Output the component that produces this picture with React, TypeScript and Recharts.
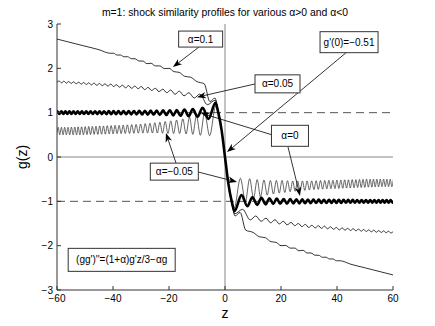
import React from 'react';
import { LineChart, Line, XAxis, YAxis, ReferenceLine, ReferenceDot } from 'recharts';

type Pt = [number, number];

const zTicks = [-60, -40, -20, 0, 20, 40, 60];
const gTicks = [-3, -2, -1, 0, 1, 2, 3];

// alpha = 0.1
const curveAlpha010: Pt[] = [
  [-60, 2.66], [-55, 2.58], [-50, 2.5], [-45, 2.42], [-41.0, 2.34], [-39.8, 2.34], [-38.55, 2.3], [-37.3, 2.3],
  [-36.05, 2.26], [-34.8, 2.262], [-33.5, 2.218], [-32.1, 2.215], [-30.7, 2.165], [-29.3, 2.165], [-27.9, 2.105],
  [-26.4, 2.115], [-24.9, 2.055], [-23.3, 2.055], [-21.7, 1.995], [-20.0, 2.0], [-18.2, 1.925], [-16.4, 1.91],
  [-14.4, 1.82], [-12.3, 1.8], [-10.0, 1.7], [-7.4, 1.65], [-5.4, 1.25], [-3.6, 1.33], [-2.4, 1.03], [-1.2, 0.6],
  [0, 0],
  [1.2, -0.6], [2.4, -1.03], [3.6, -1.33], [5.4, -1.25], [7.4, -1.65], [10.0, -1.7], [12.3, -1.8], [14.4, -1.82],
  [16.4, -1.91], [18.2, -1.925], [20.0, -2.0], [21.7, -1.995], [23.3, -2.055], [24.9, -2.055], [26.4, -2.115],
  [27.9, -2.105], [29.3, -2.165], [30.7, -2.165], [32.1, -2.215], [33.5, -2.218], [34.8, -2.262], [36.05, -2.26],
  [37.3, -2.3], [38.55, -2.3], [39.8, -2.34], [41.0, -2.34], [45, -2.42], [50, -2.5], [55, -2.58], [60, -2.66],
];

// alpha = 0.05
const curveAlpha005: Pt[] = [
  [-60.1, 1.678], [-59.25, 1.714], [-58.4, 1.673], [-57.55, 1.708], [-56.65, 1.667], [-55.8, 1.703], [-54.95, 1.66],
  [-54.05, 1.696], [-53.15, 1.652], [-52.25, 1.688], [-51.35, 1.643], [-50.45, 1.681], [-49.55, 1.635], [-48.65, 1.674],
  [-47.7, 1.626], [-46.75, 1.666], [-45.8, 1.617], [-44.8, 1.659], [-43.85, 1.608], [-42.85, 1.65], [-41.85, 1.6],
  [-40.8, 1.645], [-39.8, 1.59], [-38.75, 1.63], [-37.7, 1.575], [-36.6, 1.62], [-35.55, 1.56], [-34.45, 1.61],
  [-33.35, 1.55], [-32.2, 1.6], [-31.05, 1.54], [-29.9, 1.59], [-28.7, 1.52], [-27.45, 1.57], [-26.2, 1.5],
  [-24.9, 1.55], [-23.6, 1.475], [-22.2, 1.53], [-20.8, 1.45], [-19.4, 1.51], [-17.85, 1.415], [-16.3, 1.485],
  [-14.65, 1.38], [-12.9, 1.45], [-11.0, 1.33], [-9.0, 1.42], [-6.3, 1.18], [-3.5, 1.28], [-2.4, 1.04], [-1.2, 0.6],
  [0, 0],
  [1.2, -0.6], [2.4, -1.04], [3.5, -1.28], [6.3, -1.18], [9.0, -1.42], [11.0, -1.33], [12.9, -1.45], [14.65, -1.38],
  [16.3, -1.485], [17.85, -1.415], [19.4, -1.51], [20.8, -1.45], [22.2, -1.53], [23.6, -1.475], [24.9, -1.55],
  [26.2, -1.5], [27.45, -1.57], [28.7, -1.52], [29.9, -1.59], [31.05, -1.54], [32.2, -1.6], [33.35, -1.55],
  [34.45, -1.61], [35.55, -1.56], [36.6, -1.62], [37.7, -1.575], [38.75, -1.63], [39.8, -1.59], [40.8, -1.645],
  [41.85, -1.6], [42.85, -1.65], [43.85, -1.608], [44.8, -1.659], [45.8, -1.617], [46.75, -1.666], [47.7, -1.626],
  [48.65, -1.674], [49.55, -1.635], [50.45, -1.681], [51.35, -1.643], [52.25, -1.688], [53.15, -1.652],
  [54.05, -1.696], [54.95, -1.66], [55.8, -1.703], [56.65, -1.667], [57.55, -1.708], [58.4, -1.673],
  [59.25, -1.714], [60.1, -1.678],
];

// alpha = 0 (thick)
const curveAlpha000: Pt[] = [
  [-60.6, 0.97], [-59.9, 1.03], [-59.15, 0.97], [-58.45, 1.03], [-57.7, 0.97], [-57.0, 1.03], [-56.3, 0.97],
  [-55.55, 1.03], [-54.85, 0.97], [-54.1, 1.03], [-53.35, 0.97], [-52.6, 1.03], [-51.85, 0.97], [-51.1, 1.03],
  [-50.35, 0.97], [-49.55, 1.031], [-48.8, 0.969], [-48.0, 1.031], [-47.2, 0.969], [-46.4, 1.032], [-45.6, 0.968],
  [-44.8, 1.032], [-44.0, 0.968], [-43.2, 1.033], [-42.35, 0.967], [-41.5, 1.034], [-40.65, 0.966], [-39.8, 1.035],
  [-38.9, 0.965], [-38.05, 1.036], [-37.15, 0.964], [-36.25, 1.037], [-35.3, 0.963], [-34.4, 1.038], [-33.5, 0.961],
  [-32.5, 1.039], [-31.6, 0.96], [-30.6, 1.041], [-29.6, 0.958], [-28.6, 1.043], [-27.6, 0.956], [-26.55, 1.046],
  [-25.5, 0.953], [-24.4, 1.048], [-23.3, 0.95], [-22.1, 1.052], [-20.95, 0.946], [-19.7, 1.056], [-18.5, 0.94],
  [-17.2, 1.06], [-15.9, 0.93], [-14.5, 1.07], [-13.0, 0.92], [-11.5, 1.08], [-9.8, 0.91], [-8.0, 1.11],
  [-5.9, 0.86], [-3.4, 1.22], [-2.4, 1.0], [-1.2, 0.6],
  [0, 0],
  [1.2, -0.6], [2.4, -1.0], [3.4, -1.22], [5.9, -0.86], [8.0, -1.11], [9.8, -0.91], [11.5, -1.08], [13.0, -0.92],
  [14.5, -1.07], [15.9, -0.93], [17.2, -1.06], [18.5, -0.94], [19.7, -1.056], [20.95, -0.946], [22.1, -1.052],
  [23.3, -0.95], [24.4, -1.048], [25.5, -0.953], [26.55, -1.046], [27.6, -0.956], [28.6, -1.043], [29.6, -0.958],
  [30.6, -1.041], [31.6, -0.96], [32.5, -1.039], [33.5, -0.961], [34.4, -1.038], [35.3, -0.963], [36.25, -1.037],
  [37.15, -0.964], [38.05, -1.036], [38.9, -0.965], [39.8, -1.035], [40.65, -0.966], [41.5, -1.034], [42.35, -0.967],
  [43.2, -1.033], [44.0, -0.968], [44.8, -1.032], [45.6, -0.968], [46.4, -1.032], [47.2, -0.969], [48.0, -1.031],
  [48.8, -0.969], [49.55, -1.031], [50.35, -0.97], [51.1, -1.03], [51.85, -0.97], [52.6, -1.03], [53.35, -0.97],
  [54.1, -1.03], [54.85, -0.97], [55.55, -1.03], [56.3, -0.97], [57.0, -1.03], [57.7, -0.97], [58.45, -1.03],
  [59.15, -0.97], [59.9, -1.03], [60.6, -0.97],
];

// alpha = -0.05
const curveAlphaNeg005: Pt[] = [
  [-60.15, 0.5], [-59.58, 0.67], [-59.02, 0.5], [-58.43, 0.67], [-57.83, 0.5], [-57.26, 0.67], [-56.66, 0.5],
  [-56.06, 0.67], [-55.46, 0.5], [-54.85, 0.675], [-54.24, 0.5], [-53.64, 0.675], [-53.02, 0.5], [-52.46, 0.68],
  [-51.83, 0.5], [-51.21, 0.68], [-50.55, 0.5], [-49.92, 0.685], [-49.3, 0.505], [-48.66, 0.69], [-48.03, 0.505],
  [-47.37, 0.69], [-46.73, 0.51], [-46.09, 0.695], [-45.43, 0.51], [-44.75, 0.7], [-44.09, 0.515], [-43.41, 0.7],
  [-42.73, 0.515], [-42.05, 0.705], [-41.36, 0.52], [-40.66, 0.71], [-39.96, 0.52], [-39.26, 0.715], [-38.55, 0.525],
  [-37.83, 0.715], [-37.09, 0.525], [-36.36, 0.72], [-35.62, 0.53], [-34.86, 0.725], [-34.1, 0.53], [-33.32, 0.73],
  [-32.55, 0.535], [-31.76, 0.735], [-30.95, 0.538], [-30.14, 0.744], [-29.32, 0.539], [-28.49, 0.753], [-27.66, 0.54],
  [-26.81, 0.762], [-25.93, 0.54], [-25.06, 0.773], [-24.17, 0.54], [-23.26, 0.785], [-22.32, 0.535], [-21.36, 0.8],
  [-20.38, 0.53], [-19.37, 0.815], [-18.35, 0.53], [-17.29, 0.835], [-16.21, 0.53], [-15.08, 0.86], [-13.9, 0.52],
  [-12.68, 0.9], [-11.5, 0.51], [-10.2, 0.93], [-8.8, 0.49], [-7.3, 1.0], [-5.5, 0.48], [-3.3, 1.15], [-2.3, 0.96],
  [-1.2, 0.59],
  [0, 0],
  [1.2, -0.59], [2.3, -0.96], [3.3, -1.15], [5.5, -0.48], [7.3, -1.0], [8.8, -0.49], [10.2, -0.93], [11.5, -0.51],
  [12.68, -0.9], [13.9, -0.52], [15.08, -0.86], [16.21, -0.53], [17.29, -0.835], [18.35, -0.53], [19.37, -0.815],
  [20.38, -0.53], [21.36, -0.8], [22.32, -0.535], [23.26, -0.785], [24.17, -0.54], [25.06, -0.773], [25.93, -0.54],
  [26.81, -0.762], [27.66, -0.54], [28.49, -0.753], [29.32, -0.539], [30.14, -0.744], [30.95, -0.538], [31.76, -0.735],
  [32.55, -0.535], [33.32, -0.73], [34.1, -0.53], [34.86, -0.725], [35.62, -0.53], [36.36, -0.72], [37.09, -0.525],
  [37.83, -0.715], [38.55, -0.525], [39.26, -0.715], [39.96, -0.52], [40.66, -0.71], [41.36, -0.52], [42.05, -0.705],
  [42.73, -0.515], [43.41, -0.7], [44.09, -0.515], [44.75, -0.7], [45.43, -0.51], [46.09, -0.695], [46.73, -0.51],
  [47.37, -0.69], [48.03, -0.505], [48.66, -0.69], [49.3, -0.505], [49.92, -0.685], [50.55, -0.5], [51.21, -0.68],
  [51.83, -0.5], [52.46, -0.68], [53.02, -0.5], [53.64, -0.675], [54.24, -0.5], [54.85, -0.675], [55.46, -0.5],
  [56.06, -0.67], [56.66, -0.5], [57.26, -0.67], [57.83, -0.5], [58.43, -0.67], [59.02, -0.5], [59.58, -0.67],
  [60.15, -0.5],
];

const labelBoxes = [
  { text: 'α=0.1', z: -8.7, g: 2.66, w: 44, h: 16 },
  { text: "g'(0)=−0.51", z: 44.3, g: 2.59, w: 58, h: 21 },
  { text: 'α=0.05', z: 18.75, g: 1.65, w: 45, h: 18 },
  { text: 'α=0', z: 23.2, g: 0.478, w: 37, h: 21 },
  { text: 'α=−0.05', z: -18.1, g: -0.33, w: 48, h: 17 },
  { text: "(gg')''=(1+α)g'z/3−αg", z: -36.9, g: -2.32, w: 107, h: 23 },
];

const arrows: { from: Pt; to: Pt }[] = [
  { from: [-9.3, 2.48], to: [-18.6, 2.03] },
  { from: [43.2, 2.35], to: [0.7, 0.11] },
  { from: [10.7, 1.647], to: [-10.0, 1.35] },
  { from: [16.8, 0.5], to: [-8.6, 0.99] },
  { from: [22.5, 0.226], to: [26.8, -0.88] },
  { from: [-17.5, -0.135], to: [-21.1, 0.54] },
  { from: [-9.6, -0.338], to: [4.3, -0.564] },
];

const FONT = "'Liberation Sans', Arial, Helvetica, sans-serif";

const rows = (pts: Pt[]) => pts.map(([z, g]) => ({ z, g }));
const fmt = (v: number) => String(v).replace('-', '−');

const ArrowShape = (props: any) => {
  const { x1, y1, x2, y2 } = props;
  const dx = x2 - x1;
  const dy = y2 - y1;
  const len = Math.hypot(dx, dy) || 1;
  const ux = dx / len;
  const uy = dy / len;
  const px = -uy;
  const py = ux;
  const L = 9;
  const W = 3.3;
  const N = 6.5;
  const bx = x2 - ux * L;
  const by = y2 - uy * L;
  const nx = x2 - ux * N;
  const ny = y2 - uy * N;
  const pts = `${x2},${y2} ${bx + px * W},${by + py * W} ${nx},${ny} ${bx - px * W},${by - py * W}`;
  return (
    <g>
      <line x1={x1} y1={y1} x2={nx} y2={ny} stroke="#000" strokeWidth={0.8} />
      <polygon points={pts} fill="#000" />
    </g>
  );
};

const makeBox = (text: string, w: number, h: number) => (props: any) => {
  const { cx, cy } = props;
  return (
    <g>
      <rect x={cx - w / 2} y={cy - h / 2} width={w} height={h} fill="#fff" stroke="#333" strokeWidth={1} />
      <text x={cx} y={cy + 3.6} textAnchor="middle" fontSize={10} fontFamily={FONT} fill="#000">
        {text}
      </text>
    </g>
  );
};

export default function App() {
  const tickStyle = { fill: '#000', fontSize: 10, fontFamily: FONT };
  return (
    <div style={{ position: 'absolute', left: 0, top: 0, width: 435, height: 326, background: '#fff' }}>
      <LineChart width={435} height={326} margin={{ top: 24, right: 42, bottom: 0, left: 0 }}>
        <XAxis
          xAxisId="main"
          dataKey="z"
          type="number"
          domain={[-60, 60]}
          ticks={zTicks}
          interval={0}
          allowDataOverflow
          height={36}
          tickSize={-4}
          tickMargin={9}
          tickFormatter={fmt}
          tick={tickStyle}
          stroke="#333"
          axisLine={{ stroke: '#333' }}
          tickLine={{ stroke: '#333' }}
        />
        <XAxis
          xAxisId="top"
          orientation="top"
          dataKey="z"
          type="number"
          domain={[-60, 60]}
          ticks={zTicks}
          interval={0}
          height={0}
          tickSize={-4}
          tickFormatter={() => ''}
          stroke="#333"
        />
        <YAxis
          yAxisId="main"
          type="number"
          domain={[-3, 3]}
          ticks={gTicks}
          interval={0}
          allowDataOverflow
          width={57}
          tickSize={-4}
          tickMargin={8}
          tickFormatter={fmt}
          tick={tickStyle}
          stroke="#333"
        />
        <YAxis
          yAxisId="right"
          orientation="right"
          type="number"
          domain={[-3, 3]}
          ticks={gTicks}
          interval={0}
          width={0}
          tickSize={-4}
          tickFormatter={() => ''}
          stroke="#333"
        />
        <ReferenceLine xAxisId="main" yAxisId="main" y={1} stroke="#555" strokeDasharray="8 5" />
        <ReferenceLine xAxisId="main" yAxisId="main" y={-1} stroke="#555" strokeDasharray="8 5" />
        <ReferenceLine xAxisId="main" yAxisId="main" y={0} stroke="#888" />
        <ReferenceLine xAxisId="main" yAxisId="main" x={0} stroke="#888" />
        <Line xAxisId="main" yAxisId="main" data={rows(curveAlpha010)} dataKey="g" type="monotone" stroke="#000" strokeWidth={0.8} dot={false} isAnimationActive={false} />
        <Line xAxisId="main" yAxisId="main" data={rows(curveAlpha005)} dataKey="g" type="monotone" stroke="#000" strokeWidth={0.8} dot={false} isAnimationActive={false} />
        <Line xAxisId="main" yAxisId="main" data={rows(curveAlphaNeg005)} dataKey="g" type="monotone" stroke="#222" strokeWidth={0.7} dot={false} isAnimationActive={false} />
        <Line xAxisId="main" yAxisId="main" data={rows(curveAlpha000)} dataKey="g" type="monotone" stroke="#000" strokeWidth={2.6} dot={false} isAnimationActive={false} />
        {arrows.map((a, i) => (
          <ReferenceLine
            key={'a' + i}
            xAxisId="main"
            yAxisId="main"
            segment={[{ x: a.from[0], y: a.from[1] }, { x: a.to[0], y: a.to[1] }]}
            ifOverflow="visible"
            shape={ArrowShape}
          />
        ))}
        {labelBoxes.map((b, i) => (
          <ReferenceDot
            key={'b' + i}
            xAxisId="main"
            yAxisId="main"
            x={b.z}
            y={b.g}
            r={1}
            ifOverflow="visible"
            shape={makeBox(b.text, b.w, b.h)}
          />
        ))}
      </LineChart>
      <svg width={435} height={326} style={{ position: 'absolute', left: 0, top: 0, pointerEvents: 'none' }}>
        <text x={225} y={16} textAnchor="middle" fontSize={10.4} fontFamily={FONT} fill="#000">
          m=1: shock similarity profiles for various α&gt;0 and α&lt;0
        </text>
        <text x={225} y={318} textAnchor="middle" fontSize={14} fontFamily={FONT} fill="#000">z</text>
        <text x={27} y={157} textAnchor="middle" fontSize={14} fontFamily={FONT} fill="#000" transform="rotate(-90 27 157)">
          g(z)
        </text>
      </svg>
    </div>
  );
}
